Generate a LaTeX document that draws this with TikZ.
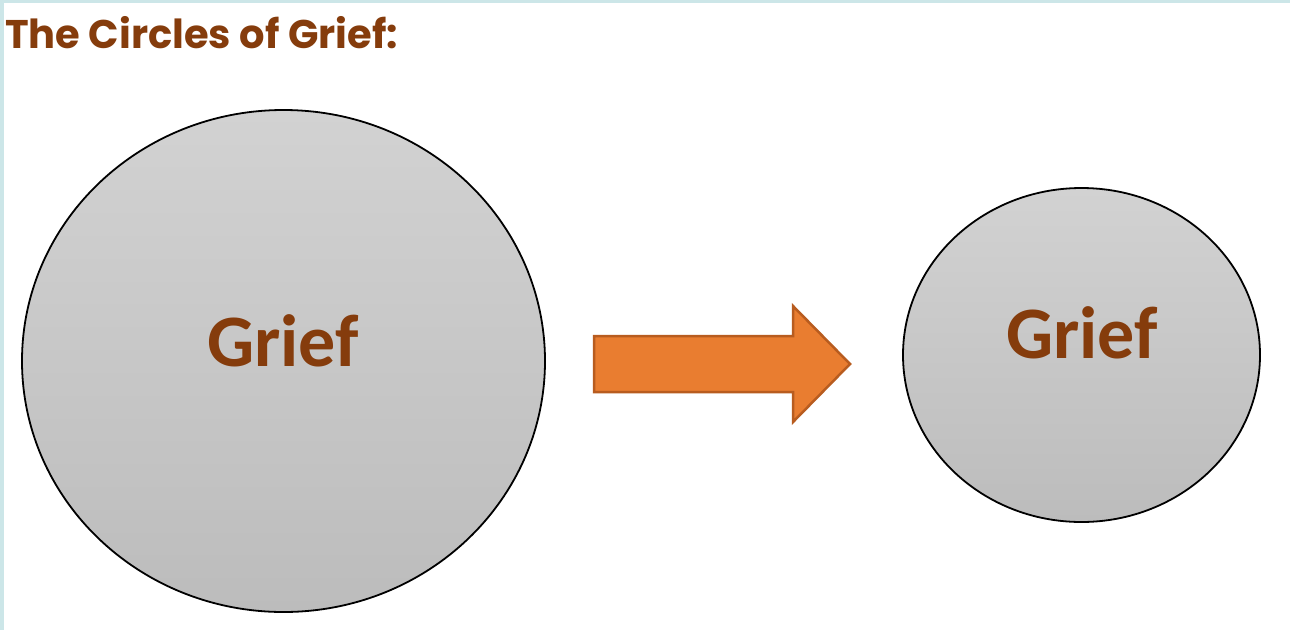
\documentclass[tikz,border=0pt]{standalone}
\usepackage{fontspec}
\setmainfont{Carlito}
\newfontfamily\titlefont{Poppins}
\usetikzlibrary{shapes.geometric}
\definecolor{brownt}{RGB}{133,60,12}
\definecolor{teal1}{RGB}{204,230,232}
\definecolor{gtop}{RGB}{210,210,210}
\definecolor{gbot}{RGB}{188,188,188}
\definecolor{arrfill}{RGB}{233,125,48}
\definecolor{arrdraw}{RGB}{184,92,31}
\tikzset{
  griefcircle/.style={ellipse, draw=black, line width=1.8pt, top color=gtop, bottom color=gbot, inner sep=0pt},
  grieftext/.style={font=\bfseries\fontsize{74}{80}\selectfont, text=brownt, inner sep=0pt},
  arrowshape/.style={fill=arrfill, draw=arrdraw, line width=2.5pt, line join=miter}
}
\begin{document}
\begin{tikzpicture}[x=1pt,y=-1pt]
\useasboundingbox (0,0) rectangle (1290,630);
\fill[white] (0,0) rectangle (1290,630);
\fill[teal1] (0,0) rectangle (1290,3);
\fill[teal1] (0,0) rectangle (4,630);
\node[anchor=base west, inner sep=0pt, text=brownt, font=\titlefont\bfseries\fontsize{40}{48}\selectfont] (title) at (5,48) {The Circles of Grief:};
\node[griefcircle, minimum width=523pt, minimum height=502pt] (big) at (283.5,361) {};
\node[grieftext] (bigtext) at (283,341) {Grief};
\node[griefcircle, minimum width=357pt, minimum height=334pt] (small) at (1081.5,355) {};
\node[grieftext] (smalltext) at (1082,333) {Grief};
\draw[arrowshape] (594,336) -- (793,336) -- (793,306) -- (850,364) -- (793,422) -- (793,392) -- (594,392) -- cycle;
\end{tikzpicture}
\end{document}
